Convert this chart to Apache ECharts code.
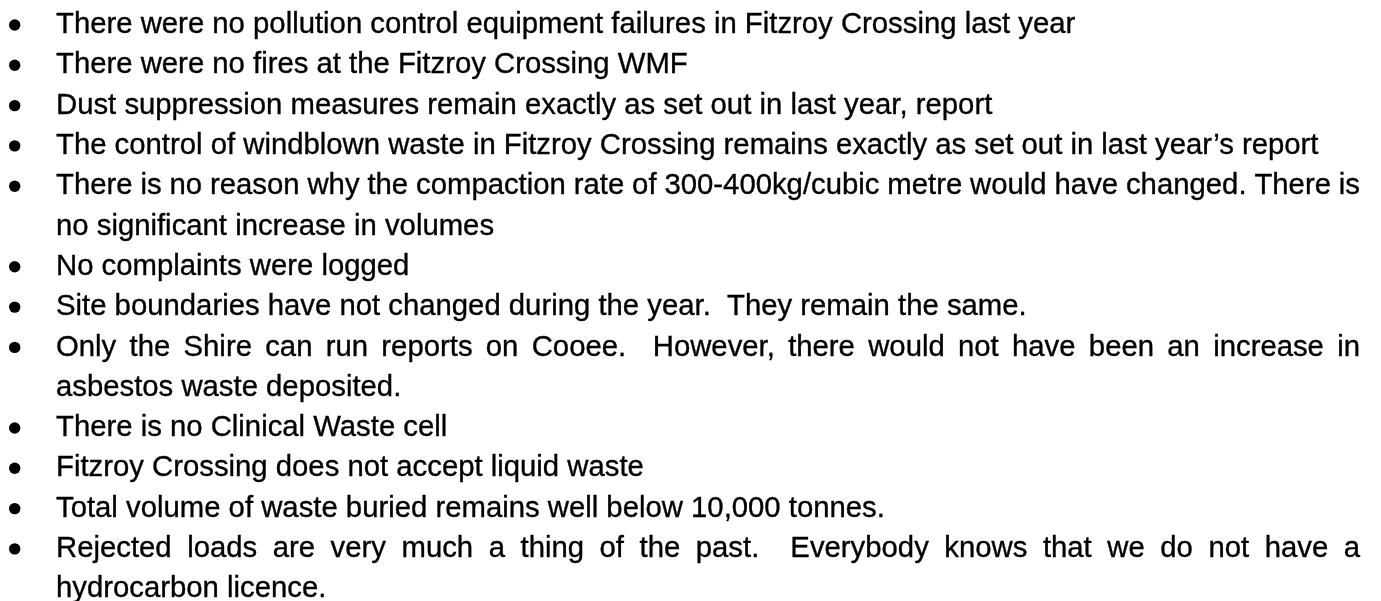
<!DOCTYPE html>
<html>
<head>
<meta charset="utf-8">
<title>Fitzroy Crossing WMF notes</title>
<script src="https://cdn.jsdelivr.net/npm/echarts@6/dist/echarts.min.js"></script>
<style>
  html, body { margin: 0; padding: 0; background: #fff; }
  #main { width: 1381px; height: 601px; }
</style>
</head>
<body>
<div id="main"></div>
<script>
// each bullet is a list of the lines it wraps onto
const bulletLines = [
  ['There were no pollution control equipment failures in Fitzroy Crossing last year'],
  ['There were no fires at the Fitzroy Crossing WMF'],
  ['Dust suppression measures remain exactly as set out in last year, report'],
  ['The control of windblown waste in Fitzroy Crossing remains exactly as set out in last year\u2019s report'],
  ['There is no reason why the compaction rate of 300-400kg/cubic metre would have changed. There is',
   'no significant increase in volumes'],
  ['No complaints were logged'],
  ['Site boundaries have not changed during the year.  They remain the same.'],
  ['Only the Shire can run reports on Cooee.  However, there would not have been an increase in',
   'asbestos waste deposited.'],
  ['There is no Clinical Waste cell'],
  ['Fitzroy Crossing does not accept liquid waste'],
  ['Total volume of waste buried remains well below 10,000 tonnes.'],
  ['Rejected loads are very much a thing of the past.  Everybody knows that we do not have a',
   'hydrocarbon licence.']
];

const FONT_SIZE = 29.3;
const FONT = FONT_SIZE + 'px "Liberation Sans", Arial, sans-serif';
const TEXT_LEFT = 56;
const TEXT_RIGHT = 1360;
const FIRST_BASELINE = 32.3;
const LINE_STEP = 40.3;
const MIDDLE_OFFSET = 7.2; // baseline -> canvas 'middle' line
const BULLET_X = 14.7;
const BULLET_R = 5.7;

const measureCtx = document.createElement('canvas').getContext('2d');
measureCtx.font = FONT;
const textWidth = (s) => measureCtx.measureText(s).width;

function textEl(text, x, baseline) {
  return {
    type: 'text',
    x: x,
    y: baseline - MIDDLE_OFFSET,
    style: {
      text: text,
      font: FONT,
      fill: '#000',
      stroke: '#000',
      lineWidth: 0.35,
      align: 'left',
      verticalAlign: 'middle'
    }
  };
}

// word-level layout for justified lines (every non-final line of a bullet)
function justifiedEls(line, baseline) {
  const spaces = line.split(' ').length - 1;
  const extra = (TEXT_RIGHT - TEXT_LEFT - textWidth(line)) / spaces;
  const els = [];
  let prefix = '';
  let gaps = 0;
  line.split(' ').forEach((word, i) => {
    if (i > 0) {
      prefix += ' ';
      gaps += 1;
    }
    if (word) {
      els.push(textEl(word, TEXT_LEFT + textWidth(prefix) + extra * gaps, baseline));
    }
    prefix += word;
  });
  return els;
}

const elements = [];
let row = 0;
bulletLines.forEach((lines) => {
  const firstBaseline = FIRST_BASELINE + LINE_STEP * row;
  elements.push({
    type: 'circle',
    shape: { cx: BULLET_X, cy: firstBaseline - 7.3, r: BULLET_R },
    style: { fill: '#000' }
  });
  lines.forEach((line, i) => {
    const baseline = FIRST_BASELINE + LINE_STEP * row;
    if (i < lines.length - 1) {
      elements.push(...justifiedEls(line, baseline));
    } else {
      elements.push(textEl(line, TEXT_LEFT, baseline));
    }
    row += 1;
  });
});

const chart = echarts.init(document.getElementById('main'));
chart.setOption({
  backgroundColor: '#fff',
  animation: false,
  graphic: { elements: elements }
});
</script>
</body>
</html>
